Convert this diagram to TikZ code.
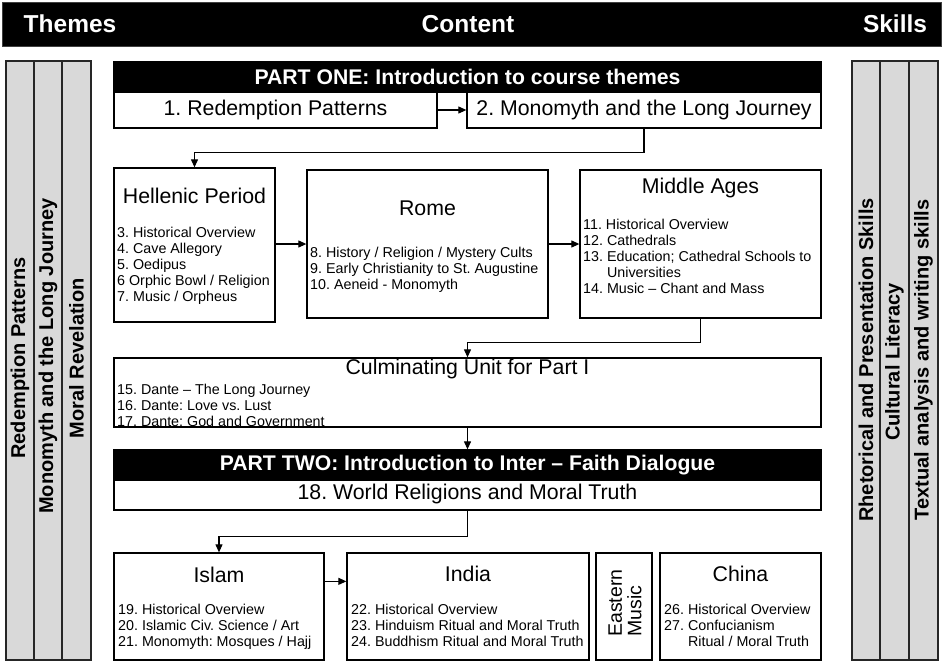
\documentclass[tikz,border=0pt]{standalone}
\usepackage{fontspec}
\setmainfont{Liberation Sans}
\usetikzlibrary{arrows.meta}
\definecolor{colgrey}{RGB}{217,217,217}
\frenchspacing
\tikzset{
  box/.style={draw=black, fill=white, line width=1.3pt, inner sep=0pt},
  bar/.style={draw=black, fill=black, line width=1.3pt, inner sep=0pt, text=white,
              font=\bfseries\fontsize{21.2}{24}\selectfont},
  col/.style={draw=black!85, fill=colgrey, line width=1.3pt, inner sep=0pt},
  coltext/.style={rotate=90, inner sep=0pt, font=\bfseries\fontsize{20}{22}\selectfont},
  head/.style={text=white, inner sep=0pt, font=\bfseries\fontsize{24.5}{26}\selectfont},
  big/.style={inner sep=0pt, font=\fontsize{21.3}{24}\selectfont},
  list/.style={inner sep=0pt, anchor=north west, align=left, font=\fontsize{14.3}{16}\selectfont},
  arr/.style={line width=1.1pt, -{Triangle[length=8pt,width=7pt]}},
}
\begin{document}
\frenchspacing
\begin{tikzpicture}[x=1pt,y=-1pt]
\useasboundingbox (0,0) rectangle (942,664);
% header
\node[draw=black!75, fill=black, line width=1pt, minimum width=939pt, minimum height=44pt, inner sep=0pt] (hdr) at (471.5,24) {};
\node[head] (hthemes) at (70,24) {Themes};
\node[head] (hcontent) at (468,24) {Content};
\node[head] (hskills) at (895,24) {Skills};
% theme columns
\node[col, minimum width=28pt, minimum height=599pt] (t1) at (20,360.5) {};
\node[col, minimum width=28pt, minimum height=599pt] (t2) at (48,360.5) {};
\node[col, minimum width=29pt, minimum height=599pt] (t3) at (76.5,360.5) {};
\node[coltext] (t1t) at (20,358) {Redemption Patterns};
\node[coltext] (t2t) at (48,356) {Monomyth and the Long Journey};
\node[coltext] (t3t) at (76.5,358) {Moral Revelation};
% skill columns
\node[col, minimum width=28pt, minimum height=599pt] (s1) at (866,360.5) {};
\node[col, minimum width=29pt, minimum height=599pt] (s2) at (894.5,360.5) {};
\node[col, minimum width=29pt, minimum height=599pt] (s3) at (923.5,360.5) {};
\node[coltext] (s1t) at (866,360) {Rhetorical and Presentation Skills};
\node[coltext] (s2t) at (894.5,362) {Cultural Literacy};
\node[coltext] (s3t) at (923.5,360) {Textual analysis and writing skills};
% part one
\node[bar, minimum width=707pt, minimum height=30pt] (p1) at (467.5,77) {PART ONE: Introduction to course themes};
\node[box, minimum width=323pt, minimum height=36pt] (b1) at (275.5,110) {};
\node[big] (b1t) at (275.5,110) {1. Redemption Patterns};
\node[box, minimum width=354pt, minimum height=36pt] (b2) at (644,110) {};
\node[big] (b2t) at (644,110) {2. Monomyth and the Long Journey};
% hellenic
\node[box, minimum width=161pt, minimum height=154pt] (hel) at (194.5,245) {};
\node[big] (helt) at (194.5,196) {Hellenic Period};
\node[list] (hell) at (117,227) {3. Historical Overview\\4. Cave Allegory\\5. Oedipus\\6 Orphic Bowl / Religion\\7. Music / Orpheus};
% rome
\node[box, minimum width=241pt, minimum height=148pt] (rome) at (427.5,244) {};
\node[big] (romet) at (427.5,208) {Rome};
\node[list] (romel) at (310,247) {8. History / Religion / Mystery Cults\\9. Early Christianity to St. Augustine\\10. Aeneid - Monomyth};
% middle ages
\node[box, minimum width=241pt, minimum height=148pt] (mid) at (700.5,244) {};
\node[big] (midt) at (700.5,188) {Middle Ages};
\node[list] (midl) at (583,219) {11. Historical Overview\\12. Cathedrals\\13. Education; Cathedral Schools to\\\phantom{13. }Universities\\14. Music -- Chant and Mass};
% culminating
\node[box, minimum width=707pt, minimum height=69pt] (culm) at (467.5,392.5) {};
\node[big] (culmt) at (467.5,369) {Culminating Unit for Part I};
\node[list] (culml) at (117,384) {15. Dante -- The Long Journey\\16. Dante: Love vs. Lust\\17. Dante: God and Government};
% part two
\node[bar, minimum width=707pt, minimum height=30pt] (p2) at (467.5,465) {PART TWO: Introduction to Inter -- Faith Dialogue};
\node[box, minimum width=707pt, minimum height=30pt] (r18) at (467.5,495) {};
\node[big] (r18t) at (467.5,494) {18. World Religions and Moral Truth};
% islam
\node[box, minimum width=210pt, minimum height=107pt] (islam) at (219,606.5) {};
\node[big] (islamt) at (219,575) {Islam};
\node[list] (islaml) at (118,604) {19. Historical Overview\\20. Islamic Civ. Science / Art\\21. Monomyth: Mosques / Hajj};
% india
\node[box, minimum width=242pt, minimum height=107pt] (india) at (468,606.5) {};
\node[big] (indiat) at (468,574) {India};
\node[list] (indial) at (351,604) {22. Historical Overview\\23. Hinduism Ritual and Moral Truth\\24. Buddhism Ritual and Moral Truth};
% eastern music
\node[box, minimum width=56pt, minimum height=107pt] (east) at (624,606.5) {};
\node[inner sep=0pt, rotate=90, align=left, font=\fontsize{19.5}{19.5}\selectfont] (eastt) at (625,603) {Eastern\\Music};
% china
\node[box, minimum width=161pt, minimum height=107pt] (china) at (740.5,606.5) {};
\node[big] (chinat) at (740.5,574) {China};
\node[list] (chinal) at (664,604) {26. Historical Overview\\27. Confucianism\\\phantom{27. }Ritual / Moral Truth};
% connectors
\draw[arr] (b1.east) -- (b2.west);
\draw[arr] (b2.south) -- ++(0,24) -| (hel.north);
\draw[arr] (hel.east |- rome.west) -- (rome.west);
\draw[arr] (rome.east) -- (mid.west);
\draw[arr] (mid.south) -- ++(0,24) -| (culm.north);
\draw[arr] (culm.south) -- (p2.north);
\draw[arr] (r18.south) -- ++(0,26) -| (islam.north);
\draw[arr] ([yshift=-29pt]islam.north east) -- ([yshift=-29pt]india.north west);
\end{tikzpicture}
\end{document}
